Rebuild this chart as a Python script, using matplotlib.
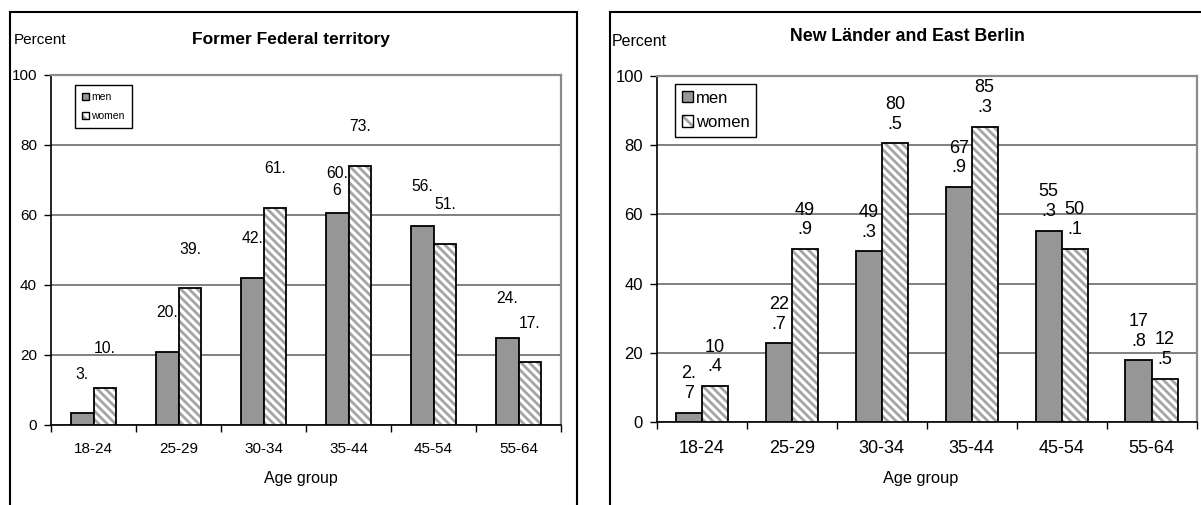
import numpy as np
import matplotlib
matplotlib.use('Agg')
import matplotlib.pyplot as plt
from matplotlib.patches import Patch, Rectangle
from matplotlib.legend_handler import HandlerTuple

plt.rcParams['font.family'] = ['Liberation Sans', 'DejaVu Sans']
plt.rcParams['hatch.linewidth'] = 2.0

ages = ['18-24', '25-29', '30-34', '35-44', '45-54', '55-64']

# former federal territory (labels are cut off in the original chart)
west_men = [3.3, 20.8, 42.1, 60.6, 56.8, 24.9]
west_women = [10.7, 39.0, 61.9, 73.9, 51.8, 17.9]
west_men_lbl = ['3.', '20.', '42.', '60.\n6', '56.', '24.']
west_women_lbl = ['10.', '39.', '61.', '73.', '51.', '17.']

# new Länder and East Berlin
east_men = [2.7, 22.7, 49.3, 67.9, 55.3, 17.8]
east_women = [10.4, 49.9, 80.5, 85.3, 50.1, 12.5]

MEN_COLOR = '#969696'
HATCH_COLOR = '#a4a4a4'
HATCH = '\\\\\\\\'

W, H = 1201, 505
fig = plt.figure(figsize=(W / 100, H / 100), dpi=100)


def px(x, y):
    return x / W, 1 - y / H


def wrap2(v):
    s = f'{v:.1f}'
    return '\n'.join(s[i:i + 2] for i in range(0, len(s), 2))


def panel(box, men, women, men_lbl, women_lbl, bw, fs_tick, fs_cat, fs_lbl, lbl_off, cat_pad):
    x0, y0, x1, y1 = box
    ax = fig.add_axes([x0 / W, 1 - y1 / H, (x1 - x0) / W, (y1 - y0) / H])
    x = np.arange(len(ages))
    ax.bar(x - bw / 2, men, bw, color=MEN_COLOR, edgecolor='black', linewidth=1.3, zorder=3)
    ax.bar(x + bw / 2, women, bw, color='white', edgecolor=HATCH_COLOR, hatch=HATCH, linewidth=0, zorder=3)
    ax.bar(x + bw / 2, women, bw, fill=False, edgecolor='black', linewidth=1.3, zorder=4)

    for i in range(len(ages)):
        for xx, v, s in ((x[i] - bw / 2, men[i], men_lbl[i]), (x[i] + bw / 2, women[i], women_lbl[i])):
            if '\n' not in s:
                s = s + '\n '
            ax.annotate(s, (xx, v), xytext=(0, lbl_off), textcoords='offset points',
                        ha='center', va='center', fontsize=fs_lbl, zorder=5)

    ax.set_xlim(-0.5, len(ages) - 0.5)
    ax.set_ylim(0, 100)
    ax.set_yticks(range(0, 101, 20))
    ax.set_xticks(np.arange(-0.5, len(ages), 1))
    ax.set_xticklabels([])
    ax.set_xticks(x, minor=True)
    ax.set_xticklabels(ages, minor=True)
    ax.tick_params(axis='x', which='major', length=5, width=1)
    ax.tick_params(axis='x', which='minor', length=0, pad=cat_pad, labelsize=fs_cat)
    ax.tick_params(axis='y', length=5, width=1, pad=5, labelsize=fs_tick)

    ax.yaxis.grid(True, color='#5e5e5e', linewidth=1.1)
    ax.set_axisbelow(True)
    for side in ('left', 'bottom'):
        ax.spines[side].set_color('black')
        ax.spines[side].set_linewidth(1.2)
    for side in ('top', 'right'):
        ax.spines[side].set_color('#8c8c8c')
        ax.spines[side].set_linewidth(1.6)
    return ax


def legend(ax, corner, fs, hl, bpad, lspace):
    men_h = Patch(facecolor=MEN_COLOR, edgecolor='black', linewidth=1)
    women_h = (Patch(facecolor='white', edgecolor=HATCH_COLOR, hatch='\\\\', linewidth=0),
               Patch(fill=False, edgecolor='black', linewidth=1))
    leg = ax.legend([men_h, women_h], ['men', 'women'], handler_map={tuple: HandlerTuple(ndivide=1)},
                    loc='upper left', bbox_to_anchor=px(*corner), bbox_transform=fig.transFigure,
                    fontsize=fs, frameon=True, fancybox=False, edgecolor='black', framealpha=1,
                    handlelength=hl, handleheight=hl, handletextpad=0.2, borderpad=bpad,
                    labelspacing=lspace, borderaxespad=0)
    leg.get_frame().set_linewidth(1.0)


# left panel
axl = panel((51, 74.7, 561, 425), west_men, west_women, west_men_lbl, west_women_lbl,
            0.27, 11, 11, 11.3, 22, 12)
legend(axl, (75, 85), 7.5, 0.65, 0.7, 0.85)
fig.text(*px(13.8, 40), 'Percent', ha='left', va='center', fontsize=11)
fig.text(*px(291, 39.3), 'Former Federal territory', ha='center', va='center', fontsize=12.5, weight='bold')
fig.text(*px(301, 478), 'Age group', ha='center', va='center', fontsize=11.5)

# right panel
axr = panel((657, 76, 1196.5, 422), east_men, east_women,
            [wrap2(v) for v in east_men], [wrap2(v) for v in east_women],
            0.29, 12, 13, 13, 21, 13)
legend(axr, (675, 84), 12, 0.65, 0.4, 0.55)
fig.text(*px(611.7, 41.7), 'Percent', ha='left', va='center', fontsize=11.5)
fig.text(*px(907, 36.7), 'New Länder and East Berlin', ha='center', va='center', fontsize=12.8, weight='bold')
fig.text(*px(921, 478), 'Age group', ha='center', va='center', fontsize=11.8)

# chart-area frames, running off the bottom / right of the image
fig.add_artist(Rectangle((10 / W, -0.2), 567 / W, 1.2 - 12 / H, transform=fig.transFigure,
                         fill=False, edgecolor='black', linewidth=1.5))
fig.add_artist(Rectangle((610 / W, -0.2), 700 / W, 1.2 - 12 / H, transform=fig.transFigure,
                         fill=False, edgecolor='black', linewidth=1.5))

fig.savefig('out.png', dpi=100)
